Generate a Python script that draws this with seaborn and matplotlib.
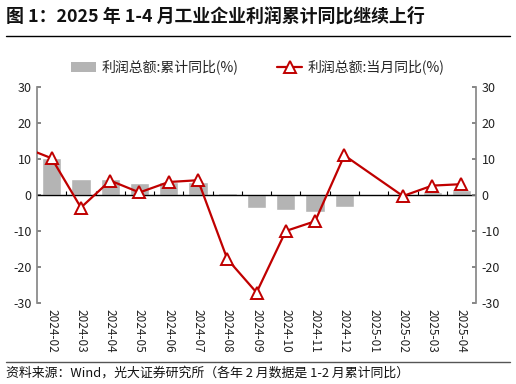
import numpy as np
import pandas as pd
import matplotlib
matplotlib.use("Agg")
import matplotlib.pyplot as plt
import seaborn as sns
from matplotlib.lines import Line2D
from matplotlib.patches import Patch

sns.set_theme(style="white")
plt.rcParams['font.family'] = ['Noto Sans CJK SC', 'DejaVu Sans']
plt.rcParams['axes.unicode_minus'] = False

# data
months = ['2024-02', '2024-03', '2024-04', '2024-05', '2024-06', '2024-07', '2024-08',
          '2024-09', '2024-10', '2024-11', '2024-12', '2025-01', '2025-02', '2025-03', '2025-04']
cum_yoy = [10.2, 4.3, 4.3, 3.4, 3.5, 3.6, 0.5, -3.5, -4.3, -4.7, -3.3, np.nan, -0.3, 0.8, 1.4]
month_yoy = [10.2, -3.5, 4.0, 0.7, 3.6, 4.1, -17.8, -27.1, -10.0, -7.3, 11.0, np.nan, -0.3, 2.6, 3.0]
prev_month_yoy = 13.4  # 2023-12, only the segment entering the plot is visible

red = '#c00000'
grey = '#b4b4b4'

df = pd.DataFrame({'month': months, 'cum': cum_yoy, 'mon': month_yoy})
df['pos'] = np.arange(len(months))
line_df = pd.concat([pd.DataFrame({'pos': [-1], 'mon': [prev_month_yoy]}),
                     df[['pos', 'mon']]]).dropna()

fig = plt.figure(figsize=(5.16, 3.84), dpi=100)
ax = fig.add_axes([0.0717, 0.211, 0.851, 0.5625])

sns.barplot(data=df, x='month', y='cum', order=months, color=grey, width=0.66,
            saturation=1, ax=ax, zorder=1)
ax.axhline(0, color='black', lw=1.0, zorder=2)
ax.vlines(np.arange(len(months)) + 0.5, 0, 1.0, color='black', lw=0.8, zorder=2)
sns.lineplot(data=line_df, x='pos', y='mon', color=red, lw=1.6, marker='^', markersize=8,
             markerfacecolor='white', markeredgecolor=red, markeredgewidth=1.4,
             ax=ax, zorder=3, clip_on=True)

ax.set_xlim(-0.5, len(months) - 0.5)
ax.set_ylim(-30, 30)
ax.set_yticks(range(-30, 31, 10))
ax.set_xlabel('')
ax.set_ylabel('')
ax.set_xticks(range(len(months)))
ax.set_xticklabels(months, rotation=270, fontsize=8.5, color='#222222')
ax.tick_params(axis='x', length=0, pad=4)
ax.tick_params(axis='y', direction='in', length=3, labelsize=9, colors='#222222',
               color='#777777', pad=4)
for s in ['top', 'bottom', 'right']:
    ax.spines[s].set_visible(False)
ax.spines['left'].set_color('#888888')

ax2 = ax.twinx()
ax2.set_ylim(-30, 30)
ax2.set_yticks(range(-30, 31, 10))
ax2.tick_params(axis='y', direction='in', length=3, labelsize=9, colors='#222222',
                color='#777777', pad=4)
for s in ['top', 'bottom', 'left']:
    ax2.spines[s].set_visible(False)
ax2.spines['right'].set_color('#888888')

handles = [Patch(facecolor=grey, edgecolor='none'),
           Line2D([0], [0], color=red, lw=1.6, marker='^', markersize=8,
                  markerfacecolor='white', markeredgecolor=red, markeredgewidth=1.4)]
fig.legend(handles, ['利润总额:累计同比(%)', '利润总额:当月同比(%)'], loc='center',
           bbox_to_anchor=(0.5, 0.825), ncol=2, frameon=False, fontsize=10,
           handlelength=1.8, columnspacing=2.8, handletextpad=0.4)

fig.text(0.012, 0.958, '图 1：2025 年 1-4 月工业企业利润累计同比继续上行', fontsize=12.9,
         fontweight='bold', va='center', ha='left', color='#111111')
fig.add_artist(Line2D([0.012, 0.988], [0.906, 0.906], color='black', lw=1.0))
fig.add_artist(Line2D([0.012, 0.988], [0.058, 0.058], color='#555555', lw=1.0))
fig.text(0.012, 0.028, '资料来源：Wind，光大证券研究所（各年 2 月数据是 1-2 月累计同比）',
         fontsize=9.3, va='center', ha='left', color='#111111')

fig.savefig('out.png', dpi=100)
